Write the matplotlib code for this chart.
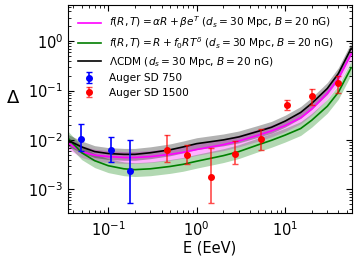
import numpy as np
import matplotlib
matplotlib.use("Agg")
import matplotlib.pyplot as plt

# Model curves (E in EeV)
E_model = [0.035, 0.05, 0.07, 0.1, 0.15, 0.2, 0.3, 0.5, 0.7, 1, 2, 3, 5, 7, 10, 15, 20, 30, 40, 56]
delta_frt_exp = [0.0086, 0.0058, 0.0049, 0.0046, 0.0044, 0.0044, 0.0046, 0.0051, 0.0056, 0.0064,
                 0.0080, 0.0095, 0.0125, 0.0152, 0.0195, 0.028, 0.042, 0.088, 0.175, 0.55]
delta_frt_pow = [0.0108, 0.0055, 0.0038, 0.0030, 0.0026, 0.0025, 0.0026, 0.0029, 0.0032, 0.0037,
                 0.0048, 0.0058, 0.0080, 0.0098, 0.0125, 0.017, 0.025, 0.048, 0.092, 0.29]
delta_lcdm = [0.0098, 0.0072, 0.0058, 0.0053, 0.0051, 0.0051, 0.0055, 0.0063, 0.0072, 0.0084,
              0.0100, 0.0115, 0.0150, 0.018, 0.024, 0.036, 0.055, 0.11, 0.22, 0.72]
# band half-widths (dex)
band_exp_dex = 0.12
band_pow_dex = 0.14
band_lcdm_dex = 0.12

# Auger SD 750
E_750 = [0.049, 0.107, 0.176]
d_750 = [0.0106, 0.0062, 0.0024]
d_750_hi = [0.0207, 0.0115, 0.0098]
d_750_lo = [0.0060, 0.0036, 0.00052]

# Auger SD 1500
E_1500 = [0.467, 0.785, 1.44, 2.71, 5.29, 10.4, 20.3, 39.9]
d_1500 = [0.0062, 0.0050, 0.00177, 0.0052, 0.0103, 0.052, 0.078, 0.145]
d_1500_hi = [0.0124, 0.0080, 0.0067, 0.0094, 0.0164, 0.0636, 0.106, 0.195]
d_1500_lo = [0.0036, 0.0032, 0.00052, 0.0032, 0.0062, 0.0412, 0.0503, 0.091]

fig = plt.figure(figsize=(3.58, 2.64), dpi=100)
ax = fig.add_axes([0.19, 0.193, 0.793, 0.788])

E = np.array(E_model)
for vals, dex, lc, fc, fa, lab in [
    (delta_frt_exp, band_exp_dex, '#ff00ff', '#ff00ff', 0.3,
     r'$f(R,T)=\alpha R+\beta e^{T}$ ($d_s=30$ Mpc, $B=20$ nG)'),
    (delta_frt_pow, band_pow_dex, 'green', 'green', 0.3,
     r'$f(R,T)=R+f_0 R T^{\delta}$ ($d_s=30$ Mpc, $B=20$ nG)'),
    (delta_lcdm, band_lcdm_dex, 'black', 'black', 0.3,
     r'$\Lambda$CDM ($d_s=30$ Mpc, $B=20$ nG)'),
]:
    v = np.array(vals)
    ax.fill_between(E, v / 10**dex, v * 10**dex, color=fc, alpha=fa, lw=0)
    ax.plot(E, v, color=lc, lw=1.2, label=lab)

d750 = np.array(d_750)
ax.errorbar(E_750, d750, yerr=[d750 - np.array(d_750_lo), np.array(d_750_hi) - d750],
            fmt='o', color='blue', ecolor='blue', ms=4, capsize=2, elinewidth=1.2,
            label='Auger SD 750')
d1500 = np.array(d_1500)
ax.errorbar(E_1500, d1500, yerr=[d1500 - np.array(d_1500_lo), np.array(d_1500_hi) - d1500],
            fmt='o', color='red', ecolor=(1, 0, 0, 0.7), ms=4, capsize=2, elinewidth=1.2,
            label='Auger SD 1500')

ax.set_xscale('log')
ax.set_yscale('log')
ax.set_xlim(0.035, 57)
ax.set_ylim(3.3e-4, 5.4)
ax.tick_params(which='both', direction='in', top=True, right=True, labelsize=10.5)
ax.tick_params(which='major', length=4)
ax.tick_params(which='minor', length=2)
ax.tick_params(axis='x', pad=5)
ax.set_xlabel('E (EeV)', fontsize=10.5, labelpad=1)
ax.set_ylabel(r'$\Delta$', fontsize=13, rotation=0)
ax.yaxis.set_label_coords(-0.195, 0.51)

ax.legend(loc='upper left', fontsize=7.6, frameon=False, handlelength=2.2,
          labelspacing=0.42, borderaxespad=0.5)

fig.savefig('out.png', dpi=100)
